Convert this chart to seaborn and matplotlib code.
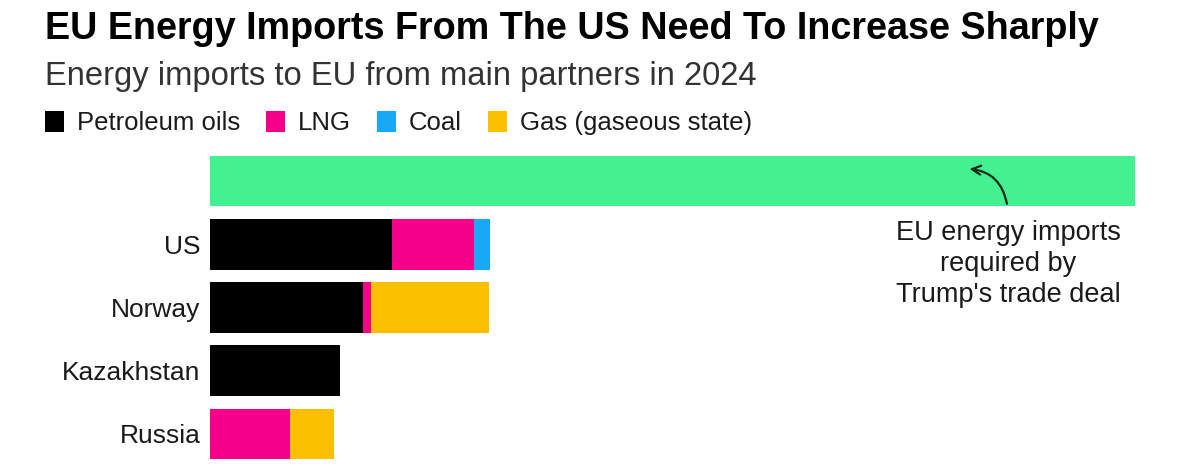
import matplotlib
matplotlib.use("Agg")
import pandas as pd
import matplotlib.pyplot as plt
import seaborn as sns
from matplotlib.patches import Patch

# Energy imports to EU in 2024, $bn
partners = ["US", "Norway", "Kazakhstan", "Russia"]
petroleum_oils = [49.2, 41.4, 35.1, 0.0]
lng = [22.2, 2.2, 0.0, 21.6]
coal = [4.3, 0.0, 0.0, 0.0]
gas = [0.0, 31.9, 0.0, 11.9]
deal_required = [250.0]  # $bn a year under the trade deal

series_names = ["Petroleum oils", "LNG", "Coal", "Gas (gaseous state)"]
series_colors = ["#000000", "#F5008B", "#19A8F5", "#FDC000"]
deal_color = "#44F191"
text_color = "#1a1a1a"


def main():
    sns.set_style("white")
    plt.rcParams["font.family"] = ["Liberation Sans", "DejaVu Sans"]

    order = [""] + partners
    df = pd.DataFrame({"partner": partners, "Petroleum oils": petroleum_oils,
                       "LNG": lng, "Coal": coal, "Gas (gaseous state)": gas})
    cum = df[series_names].cumsum(axis=1)
    cum["partner"] = df["partner"]
    deal = pd.DataFrame({"partner": [""], "value": deal_required})

    fig = plt.figure(figsize=(12, 4.68), dpi=100)
    ax = fig.add_axes([0.175, 0.0192, 0.7708, 0.6475])

    sns.barplot(data=deal, x="value", y="partner", order=order, color=deal_color,
                saturation=1, width=0.8, errorbar=None, linewidth=0, ax=ax)
    # stacked bars: draw cumulative totals from the widest down
    for name, color in reversed(list(zip(series_names, series_colors))):
        sns.barplot(data=cum, x=name, y="partner", order=order, color=color,
                    saturation=1, width=0.8, errorbar=None, linewidth=0, ax=ax)

    ax.set_xlim(0, 250)
    ax.set_ylim(4.4, -0.4)
    ax.set_xlabel("")
    ax.set_ylabel("")
    ax.set_xticks([])
    ax.tick_params(axis="y", length=0, pad=7, labelsize=19, labelcolor=text_color)
    sns.despine(ax=ax, left=True, bottom=True)

    ax.annotate("", xy=(204.5, -0.2), xytext=(215.5, 0.4),
                arrowprops=dict(arrowstyle="->", color="#0d2b18", lw=1.6,
                                mutation_scale=16,
                                connectionstyle="arc3,rad=0.4"))
    ax.text(215.7, 0.62, "EU energy imports\nrequired by\nTrump's trade deal",
            ha="center", va="top", fontsize=19.5, linespacing=1.25, color=text_color)

    fig.text(0.0375, 0.976, "EU Energy Imports From The US Need To Increase Sharply",
             fontsize=27.2, fontweight="bold", color="#000000", va="top")
    fig.text(0.0375, 0.870, "Energy imports to EU from main partners in 2024",
             fontsize=23.6, color="#333333", va="top")

    handles = [Patch(facecolor=c, edgecolor="none") for c in series_colors]
    fig.legend(handles, series_names, loc="center left", bbox_to_anchor=(0.0375, 0.737),
               ncol=4, frameon=False, fontsize=18.5, handlelength=0.75, handleheight=0.85,
               handletextpad=0.5, columnspacing=1.0, borderpad=0, borderaxespad=0,
               labelcolor=text_color)

    fig.savefig("out.png", dpi=100, facecolor="white")


if __name__ == "__main__":
    main()
